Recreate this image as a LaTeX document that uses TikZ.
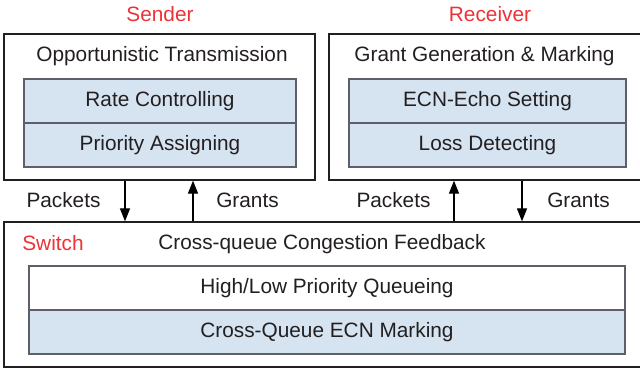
\documentclass[tikz,border=0pt]{standalone}
\usepackage{fontspec}
\setmainfont{Liberation Sans}
\usetikzlibrary{arrows.meta, positioning}
\definecolor{rowblue}{RGB}{214,228,241}
\definecolor{labelred}{RGB}{237,50,55}
\definecolor{textgray}{RGB}{35,31,32}
\definecolor{edgegray}{RGB}{95,95,105}

\tikzset{
  outerbox/.style={draw=textgray, line width=1.3pt, inner sep=0pt},
  rowbox/.style={draw=edgegray, line width=1.4pt, fill=rowblue, minimum height=44pt, inner sep=0pt, text=textgray},
  title/.style={text=textgray},
  role/.style={text=labelred},
  flow/.style={-{Triangle[length=13pt,width=10pt]}, line width=1.2pt, draw=black},
}

\begin{document}
\begin{tikzpicture}[x=1pt, y=-1pt, font=\fontsize{20.8}{24}\selectfont]
  \clip (0,0) rectangle (640,371);
  % Sender
  \node[outerbox, minimum width=311pt, minimum height=146pt] (sender) at (159.5,107) {};
  \node[role] (sendername) at (160,14) {Sender};
  \node[title] (sendertitle) at (162,56) {Opportunistic Transmission};
  \node[rowbox, minimum width=272pt] (rate) at (160,101) {Rate Controlling};
  \node[rowbox, minimum width=272pt] (prio) at (160,145) {Priority Assigning};
  % Receiver
  \node[outerbox, minimum width=331pt, minimum height=146pt] (receiver) at (494.5,107) {};
  \node[role] (receivername) at (490,14) {Receiver};
  \node[title] (receivertitle) at (484.5,56) {Grant Generation \& Marking};
  \node[rowbox, minimum width=277pt] (echo) at (487.5,101) {ECN-Echo Setting};
  \node[rowbox, minimum width=277pt] (loss) at (487.5,145) {Loss Detecting};
  % Switch
  \node[outerbox, minimum width=650pt, minimum height=145pt] (switch) at (329,294.5) {};
  \node[role] (switchname) at (53,243) {Switch};
  \node[title] (switchtitle) at (322,244) {Cross-queue Congestion Feedback};
  \node[rowbox, minimum width=596pt, fill=white] (queue) at (327,288) {High/Low Priority Queueing};
  \node[rowbox, minimum width=596pt] (marking) at (327,332) {Cross-Queue ECN Marking};
  % Links
  \coordinate (xsp) at (125,0);
  \coordinate (xsg) at (193,0);
  \coordinate (xrp) at (454,0);
  \coordinate (xrg) at (522,0);
  \draw[flow] (sender.south -| xsp) -- (switch.north -| xsp);
  \draw[flow] (switch.north -| xsg) -- (sender.south -| xsg);
  \draw[flow] (switch.north -| xrp) -- (receiver.south -| xrp);
  \draw[flow] (receiver.south -| xrg) -- (switch.north -| xrg);
  \node[title] (sendpkt) at (63.5,200) {Packets};
  \node[title] (sendgrant) at (247.5,200) {Grants};
  \node[title] (recvpkt) at (393.5,200) {Packets};
  \node[title] (recvgrant) at (578.5,200) {Grants};
\end{tikzpicture}
\end{document}
